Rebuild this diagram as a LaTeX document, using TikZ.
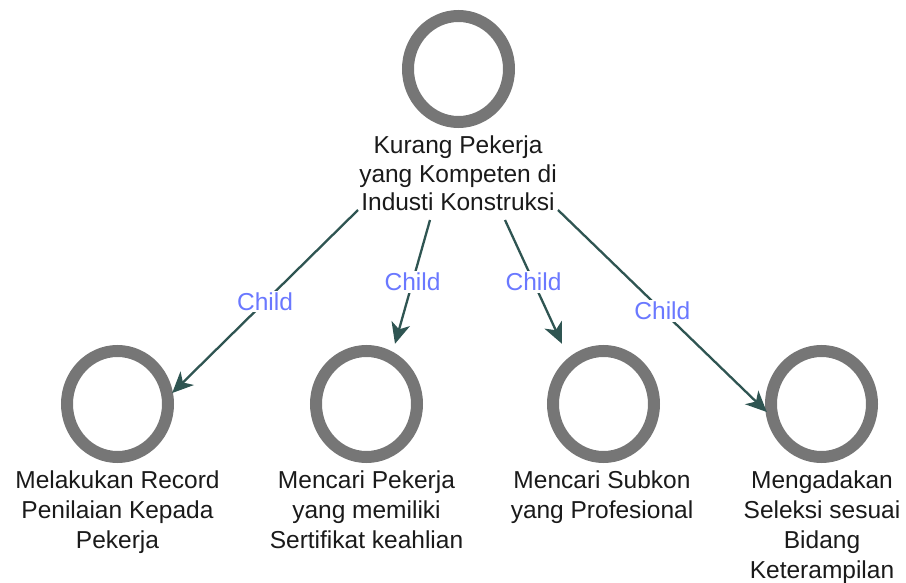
\documentclass[tikz,border=0pt]{standalone}
\usepackage{fontspec}
\setmainfont{Liberation Sans}
\usetikzlibrary{arrows.meta,calc}
\definecolor{ringgray}{HTML}{767676}
\definecolor{edgeteal}{HTML}{2F5552}
\definecolor{childblue}{HTML}{6A78FF}
\definecolor{textdark}{HTML}{1A1A1A}
\begin{document}
\begin{tikzpicture}[x=1pt,y=-1pt,
  every node/.style={font=\fontsize{24.5pt}{30pt}\selectfont, text=textdark},
  slot/.style={minimum width=109pt, minimum height=120pt, inner sep=0pt},
  ring/.style={draw=ringgray, line width=12pt},
  caption/.style={align=center, inner sep=0pt, anchor=north},
  edge/.style={draw=edgeteal, line width=2.3pt,
    -{Stealth[length=21pt,width=19pt,inset=6pt]}},
  rel/.style={fill=white, text=childblue, inner sep=2pt}]

\useasboundingbox (0,0) rectangle (906,583);

% circle slots (the ring is drawn around each slot's centre)
\node[slot] (c0) at (458.5,69) {};
\node[slot] (c1) at (117.5,404) {};
\node[slot] (c2) at (366.5,404) {};
\node[slot] (c3) at (603.5,404) {};
\node[slot] (c4) at (821.5,404) {};
\foreach \n in {c0,c1,c2,c3,c4}
  \draw[ring] (\n.center) ellipse [x radius=50.5, y radius=53];

% captions
\node[align=center, inner sep=0pt, anchor=south,
      font=\fontsize{24.5pt}{28.5pt}\selectfont] (lbl) at (458,211)
  {Kurang Pekerja\\yang Kompeten di\\Industi Konstruksi};
\node[caption] (t1) at (117.5,470.5) {Melakukan Record\\Penilaian Kepada\\Pekerja};
\node[caption] (t2) at (366.5,470.5) {Mencari Pekerja\\yang memiliki\\Sertifikat keahlian};
\node[caption] (t3) at (602,470.5) {Mencari Subkon\\yang Profesional};
\node[caption] (t4) at (822,470.5) {Mengadakan\\Seleksi sesuai\\Bidang\\Keterampilan};

% parent-child connectors
\draw[edge] ($(lbl.south)+(-100,-1)$) -- node[rel]{Child} ($(c1.east)+(0,-11)$);
\draw[edge] ($(lbl.south)+(-28,9)$) -- node[rel]{Child} ($(c2.north)+(28.5,0)$);
\draw[edge] ($(lbl.south)+(47,9)$) -- node[rel]{Child} ($(c3.north)+(-41.5,0)$);
\draw[edge] ($(lbl.south)+(100,-1)$) -- node[rel]{Child} ($(c4.west)+(0,8)$);
\end{tikzpicture}
\end{document}
